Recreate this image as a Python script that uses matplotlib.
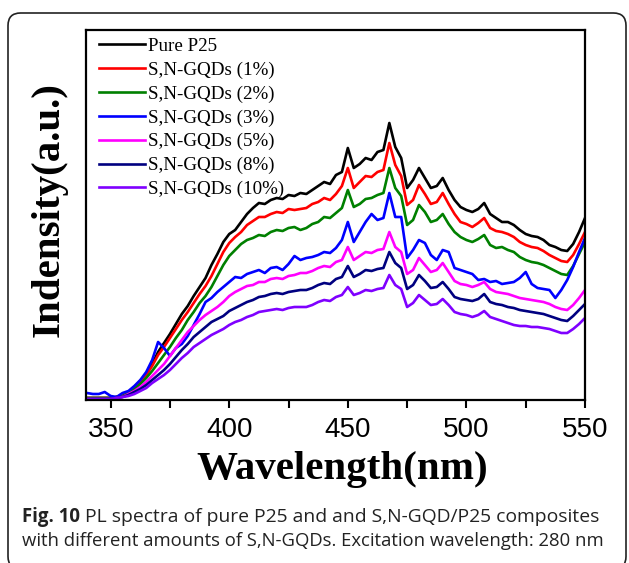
import matplotlib
matplotlib.use("Agg")
import matplotlib.pyplot as plt
from matplotlib.patches import FancyBboxPatch
import numpy as np

wavelength = [340 + 2.5 * i for i in range(85)]

pure_p25 = [2, 2, 2, 2, 2, 3, 5, 8, 13, 19, 26, 36, 48, 57, 66, 76, 86, 94, 104, 113,
            122, 135, 146, 158, 166, 170, 178, 186, 192, 197, 196, 200, 202, 201, 205, 204, 207, 206, 210, 214,
            218, 216, 225, 228, 252, 232, 236, 242, 240, 248, 250, 277, 253, 242, 212, 220, 232, 222, 212, 214,
            222, 210, 200, 193, 190, 188, 191, 197, 186, 182, 178, 178, 175, 170, 166, 164, 163, 160, 155, 153,
            150, 149, 156, 168, 182]
gqd_1 = [2, 2, 2, 2, 2, 3, 5, 8, 12, 18, 25, 34, 45, 53, 62, 71, 80, 88, 97, 106,
         114, 124, 136, 148, 157, 163, 168, 175, 179, 183, 183, 186, 188, 187, 191, 190, 191, 192, 196, 198,
         202, 200, 206, 214, 232, 212, 218, 224, 223, 228, 230, 257, 235, 224, 195, 200, 215, 206, 196, 198,
         207, 196, 186, 178, 176, 173, 177, 182, 172, 169, 168, 166, 163, 158, 155, 153, 152, 149, 145, 142,
         139, 138, 145, 156, 168]
gqd_2 = [2, 2, 2, 2, 2, 3, 4, 7, 11, 16, 22, 29, 37, 45, 53, 62, 70, 80, 88, 97,
         104, 113, 124, 135, 144, 150, 156, 160, 162, 165, 164, 168, 170, 169, 172, 173, 170, 172, 176, 178,
         183, 182, 187, 192, 210, 193, 196, 201, 202, 205, 207, 232, 212, 204, 175, 180, 195, 188, 178, 180,
         186, 176, 168, 163, 160, 158, 161, 165, 155, 152, 153, 150, 148, 143, 140, 138, 137, 135, 132, 129,
         126, 125, 134, 146, 158]
gqd_3 = [7, 6, 6, 8, 4, 3, 7, 9, 14, 20, 28, 40, 58, 52, 44, 52, 56, 64, 75, 86,
         98, 102, 108, 113, 118, 123, 122, 126, 128, 130, 127, 132, 133, 130, 136, 144, 140, 142, 143, 145,
         148, 147, 152, 160, 178, 158, 168, 178, 186, 180, 182, 207, 183, 183, 142, 150, 160, 157, 145, 140,
         150, 148, 132, 130, 128, 126, 120, 121, 118, 119, 116, 117, 118, 122, 128, 116, 112, 111, 110, 102,
         110, 120, 133, 148, 162]
gqd_5 = [1, 1, 1, 1, 1, 2, 3, 6, 9, 13, 18, 24, 30, 36, 44, 52, 60, 68, 74, 80,
         85, 89, 93, 98, 104, 108, 111, 114, 115, 118, 118, 121, 122, 121, 124, 125, 127, 127, 129, 132,
         134, 133, 138, 140, 153, 140, 144, 148, 147, 150, 151, 168, 153, 148, 126, 130, 142, 135, 128, 130,
         137, 128, 119, 116, 115, 113, 115, 118, 111, 108, 107, 106, 104, 102, 101, 100, 99, 98, 96, 93,
         91, 90, 95, 102, 110]
gqd_8 = [1, 1, 1, 1, 1, 2, 3, 5, 8, 11, 15, 20, 25, 30, 36, 43, 50, 56, 63, 68,
         73, 78, 81, 84, 89, 92, 95, 98, 100, 103, 104, 106, 107, 106, 108, 109, 110, 110, 112, 115,
         117, 116, 121, 123, 134, 123, 126, 130, 129, 131, 132, 148, 137, 132, 111, 115, 125, 119, 112, 113,
         118, 111, 103, 101, 100, 99, 101, 106, 98, 96, 95, 93, 92, 90, 89, 88, 87, 86, 84, 82,
         80, 79, 84, 90, 96]
gqd_10 = [1, 1, 1, 1, 1, 2, 3, 4, 6, 9, 12, 17, 21, 25, 30, 36, 42, 47, 53, 57,
          61, 65, 68, 71, 75, 78, 80, 83, 85, 88, 89, 90, 91, 90, 92, 93, 93, 93, 95, 98,
          100, 99, 103, 105, 113, 105, 107, 110, 109, 111, 112, 125, 115, 111, 93, 97, 105, 100, 95, 96,
          101, 95, 88, 86, 85, 83, 85, 89, 83, 81, 79, 77, 75, 74, 74, 73, 73, 72, 71, 69,
          67, 67, 71, 76, 82]

series = [
    ("Pure P25", pure_p25, "#000000"),
    ("S,N-GQDs (1%)", gqd_1, "#ff0000"),
    ("S,N-GQDs (2%)", gqd_2, "#008000"),
    ("S,N-GQDs (3%)", gqd_3, "#0000ff"),
    ("S,N-GQDs (5%)", gqd_5, "#ff00ff"),
    ("S,N-GQDs (8%)", gqd_8, "#000080"),
    ("S,N-GQDs (10%)", gqd_10, "#7f00ff"),
]

xticks = [350, 400, 450, 500, 550]

W, H = 629, 563
fig = plt.figure(figsize=(W / 100, H / 100), dpi=100)

# rounded frame: top at 13 px, left 8 px, right 626 px, bottom just below the image
x0, x1 = 8 / W, 626 / W
y_top = 1 - 13 / H
y_bot = -6 / H
box = FancyBboxPatch((x0, y_bot), x1 - x0, y_top - y_bot,
                     boxstyle="round,pad=0,rounding_size=0.02",
                     transform=fig.transFigure, fill=False, edgecolor="#222222", linewidth=1.2,
                     mutation_aspect=W / H, clip_on=False)
fig.patches.append(box)

ax = fig.add_axes([86 / W, 1 - 400 / H, (585 - 86) / W, (400 - 30) / H])
for label, ys, c in series:
    ax.plot(wavelength, ys, color=c, lw=1.9, label=label)

ax.set_xlim(339.6, 550)
ax.set_ylim(0, 370)
all_ticks = np.arange(350, 551, 25)
ax.set_xticks(all_ticks)
ax.set_xticklabels([str(t) if t in xticks else "" for t in all_ticks])
ax.set_yticks([])
ax.tick_params(axis="x", direction="out", length=6, width=1.5, labelsize=20, pad=6)
for lab in ax.get_xticklabels():
    lab.set_fontfamily("Liberation Sans")
for s in ax.spines.values():
    s.set_linewidth(1.6)

ax.set_xlabel("Wavelength(nm)", fontfamily="Liberation Serif", fontweight="bold", fontsize=29.5)
ax.xaxis.set_label_coords(0.513, -0.138)
ax.set_ylabel("Indensity(a.u.)", fontfamily="Liberation Serif", fontweight="bold", fontsize=29.5)
ax.yaxis.set_label_coords(-0.037, 0.515)

leg = ax.legend(loc="upper left", bbox_to_anchor=(0.0, 1.015), frameon=False,
                prop={"family": "Liberation Serif", "size": 13.7}, handlelength=2.4,
                handletextpad=0.18, labelspacing=0.34, borderaxespad=0.3)

cap_kw = dict(va="center", ha="left", fontfamily="Open Sans", color="#222222")
t1 = fig.text(22 / W, 1 - 517 / H, "Fig. 10", fontweight="bold", fontsize=13.4, **cap_kw)
fig.canvas.draw()
bb = t1.get_window_extent()
fig.text((bb.x1 + 5) / W, 1 - 517 / H, "PL spectra of pure P25 and and S,N-GQD/P25 composites",
         fontsize=13.9, **cap_kw)
fig.text(22 / W, 1 - 541 / H, "with different amounts of S,N-GQDs. Excitation wavelength: 280 nm",
         fontsize=13.3, **cap_kw)

fig.savefig("out.png", dpi=100)
